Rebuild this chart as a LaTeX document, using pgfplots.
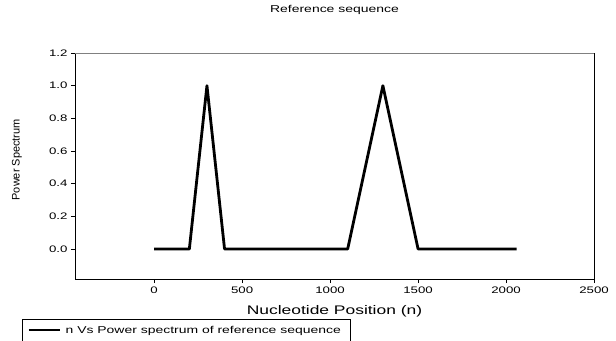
\documentclass[border=0pt]{standalone}
\usepackage{fontspec}
\setmainfont{Liberation Sans}[FakeStretch=1.4]
\newfontfamily\plainfont{Liberation Sans}
\usepackage{pgfplots}
\pgfplotsset{compat=1.18}
\begin{document}
\begin{tikzpicture}
\path[use as bounding box] (-75bp,-62bp) rectangle (541bp,279bp);
\begin{axis}[
  at={(0,0)}, anchor=south west,
  scale only axis, width=519bp, height=226bp,
  xmin=-450, xmax=2500, ymin=-0.184, ymax=1.2,
  xtick={0,500,1000,1500,2000,2500},
  ytick={0,0.2,0.4,0.6,0.8,1.0,1.2},
  /pgf/number format/assume math mode=true,
  /pgf/number format/1000 sep={},
  yticklabel style={/pgf/number format/fixed, /pgf/number format/fixed zerofill, /pgf/number format/precision=1},
  scaled ticks=false,
  tick align=outside, tick pos=left, major tick length=4bp,
  tick style={black, line width=0.7bp},
  axis line style={line width=0.8bp},
  ticklabel style={font=\fontsize{9.5}{11}\selectfont},
  title={Reference sequence},
  title style={font=\fontsize{10}{12}\selectfont, at={(axis description cs:0.5,1)}, anchor=center, yshift=37bp},
  xlabel={Nucleotide Position (n)},
  xlabel style={font=\fontsize{12.5}{14}\selectfont, at={(axis description cs:0.5,0)}, anchor=center, yshift=-32bp},
  ylabel={Power Spectrum},
  ylabel style={font=\plainfont\fontsize{11}{12}\selectfont, at={(axis description cs:0,0.527)}, anchor=center, yshift=58bp},
  legend style={at={(axis description cs:-0.102,-0.177)}, anchor=north west, draw=black, line width=0.8bp,
    font=\fontsize{10}{12}\selectfont, inner xsep=5bp, inner ysep=1.5bp,
    nodes={inner xsep=5bp, inner ysep=5bp}},
  legend cell align=left,
  legend image code/.code={\draw[line width=2.2bp] (0bp,0bp) -- (31bp,0bp);},
]
\addplot[black, line width=2.8bp, line join=round] coordinates {
(0,0) (200,0) (300,1) (400,0) (1100,0) (1300,1) (1500,0) (2060,0)
};
\addlegendentry{n Vs Power spectrum of reference sequence}
\draw[gray, line width=0.8bp] (rel axis cs:0,1) -- (rel axis cs:1,1);
\end{axis}
\end{tikzpicture}
\end{document}
